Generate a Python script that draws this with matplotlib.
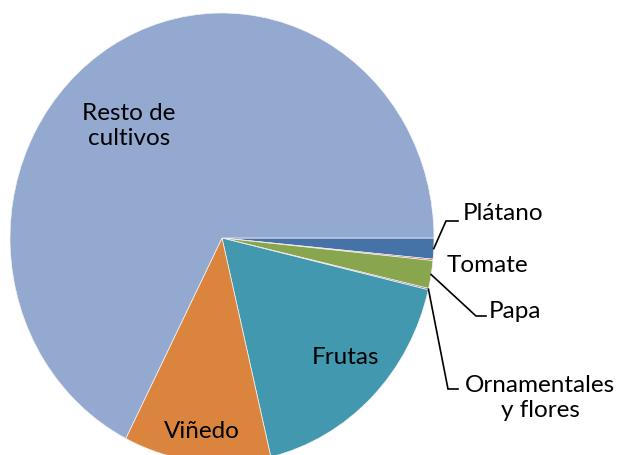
import numpy as np
import matplotlib
matplotlib.use("Agg")
import matplotlib.pyplot as plt

categories = ["Plátano", "Tomate", "Papa", "Ornamentales\ny flores", "Frutas", "Viñedo", "Resto de\ncultivos"]
values = [1.5, 0.1, 2.0, 0.1, 17.6, 11.2, 67.5]
colors = ["#4572A7", "#AA4643", "#89A54E", "#71588F", "#4198AF", "#DB843D", "#93A9CF"]

W, H = 621, 455
CX, CY, RX, RY = 222, 238, 212, 225  # pie centre / radii in pixels

fig = plt.figure(figsize=(W / 100, H / 100), dpi=100)
ax = fig.add_axes([0, 0, 1, 1])

wedges, _ = ax.pie(values, colors=colors, startangle=0, counterclock=False,
                   radius=1, center=(0, 0), frame=True,
                   wedgeprops=dict(edgecolor="#f4f4f4", linewidth=0.5))
ax.set_aspect("auto")
ax.set_xlim(-CX / RX, (W - CX) / RX)
ax.set_ylim(-(H - CY) / RY, CY / RY)
ax.axis("off")


def px(x, y):
    return (x - CX) / RX, (CY - y) / RY


font = dict(family="Lato", fontsize=17.5, color="black")

# inside labels (pixel-centre positions)
inside = {"Resto de\ncultivos": (129, 126), "Frutas": (346, 357), "Viñedo": (202, 432)}
for lab, (x, y) in inside.items():
    ax.text(*px(x, y), lab, ha="center", va="center", linespacing=1.2, **font)

# outside labels with leader elbows
outside = {
    "Plátano": dict(text=(463, 213), elbow=(446, 221), end=(458, 221), ha="left"),
    "Tomate": dict(text=(447, 266), elbow=None, end=None, ha="left"),
    "Papa": dict(text=(489, 311), elbow=(476, 316), end=(486, 316), ha="left"),
    "Ornamentales\ny flores": dict(text=(540, 398), elbow=(448, 389), end=(458, 389), ha="center"),
}
for w, lab in zip(wedges, categories):
    if lab not in outside:
        continue
    o = outside[lab]
    ax.text(*px(*o["text"]), lab, ha=o["ha"], va="center", linespacing=1.2, **font)
    if o["elbow"] is not None:
        ang = np.deg2rad((w.theta1 + w.theta2) / 2)
        sx, sy = np.cos(ang), np.sin(ang)
        ex, ey = px(*o["elbow"])
        fx, fy = px(*o["end"])
        ax.plot([sx, ex, fx], [sy, ey, fy], color="black", lw=1.2, solid_joinstyle="miter")

fig.savefig("out.png", dpi=100, facecolor="white")
